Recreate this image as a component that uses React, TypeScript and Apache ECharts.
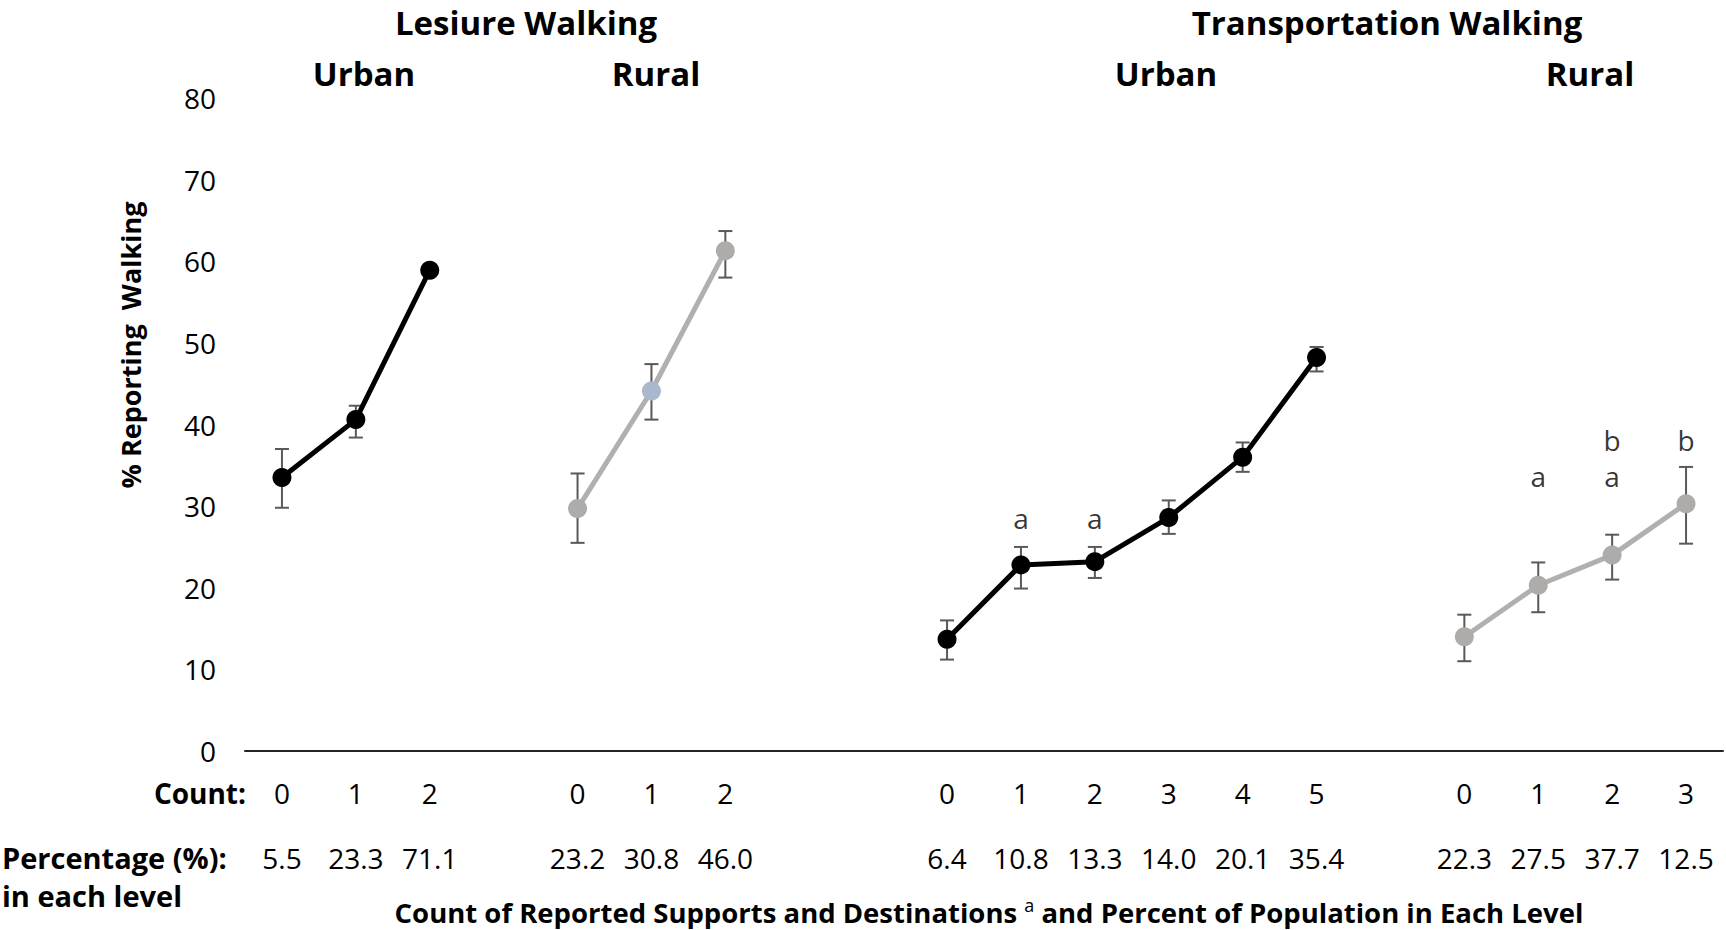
import React, { useEffect, useRef } from "react";
import * as echarts from "echarts";

// ---------- data ----------
const luCounts = [0, 1, 2];
const luMean = [33.5, 40.6, 58.9];
const luLow = [29.8, 38.4, 58.4];
const luHigh = [37.0, 42.3, 59.4];
const luPct = ["5.5", "23.3", "71.1"];

const lrCounts = [0, 1, 2];
const lrMean = [29.7, 44.1, 61.3];
const lrLow = [25.5, 40.6, 58.0];
const lrHigh = [34.0, 47.4, 63.7];
const lrPct = ["23.2", "30.8", "46.0"];

const tuCounts = [0, 1, 2, 3, 4, 5];
const tuMean = [13.7, 22.8, 23.2, 28.6, 36.0, 48.2];
const tuLow = [11.2, 19.9, 21.2, 26.6, 34.2, 46.5];
const tuHigh = [16.0, 25.0, 25.0, 30.7, 37.8, 49.5];
const tuPct = ["6.4", "10.8", "13.3", "14.0", "20.1", "35.4"];

const trCounts = [0, 1, 2, 3];
const trMean = [14.0, 20.3, 24.0, 30.3];
const trLow = [11.0, 17.0, 21.0, 25.4];
const trHigh = [16.7, 23.1, 26.5, 34.8];
const trPct = ["22.3", "27.5", "37.7", "12.5"];

// significance letters
const tuLettersA = ["", "a", "a", "", "", ""];
const trLettersA = ["", "a", "a", ""];
const trLettersB = ["", "", "b", "b"];

const yTicks = [0, 10, 20, 30, 40, 50, 60, 70, 80];

// ---------- layout / style ----------
const TU_A_LEVEL = 28.6;
const TR_A_LEVEL = 33.7;
const TR_B_LEVEL = 38.1;
const GAPS_AFTER = [1, 2, 1, 0];
const BLACK = "#000000";
const GRAY_LINE = "#b2afaf";
const GRAY_MARK = "#aeabab";
const HIGHLIGHT_MARK = "#a9b8cc";
const LR_HIGHLIGHT_INDEX = 1;
const ERR_COLOR = "#595959";
const FONT = "'Open Sans', 'Noto Sans', sans-serif";

export default function App() {
  const ref = useRef<HTMLDivElement>(null);

  useEffect(() => {
    document.body.style.margin = "0";
    document.body.style.overflow = "hidden";
    if (!ref.current) return;
    const chart = echarts.init(ref.current, undefined, { renderer: "svg" });

    const groups = [
      { key: "LU", counts: luCounts, mean: luMean, low: luLow, high: luHigh, pct: luPct, line: BLACK, mark: BLACK },
      { key: "LR", counts: lrCounts, mean: lrMean, low: lrLow, high: lrHigh, pct: lrPct, line: GRAY_LINE, mark: GRAY_MARK },
      { key: "TU", counts: tuCounts, mean: tuMean, low: tuLow, high: tuHigh, pct: tuPct, line: BLACK, mark: BLACK },
      { key: "TR", counts: trCounts, mean: trMean, low: trLow, high: trHigh, pct: trPct, line: GRAY_LINE, mark: GRAY_MARK },
    ];

    const cats: string[] = [];
    const countLbl: string[] = [];
    const pctLbl: string[] = [];
    const offsets: number[] = [];
    groups.forEach((g, gi) => {
      offsets.push(cats.length);
      g.counts.forEach((c, j) => {
        cats.push(g.key + "-" + c);
        countLbl.push(String(c));
        pctLbl.push(g.pct[j]);
      });
      for (let k = 0; k < GAPS_AFTER[gi]; k++) {
        cats.push("gap-" + gi + "-" + k);
        countLbl.push("");
        pctLbl.push("");
      }
    });

    const lineSeries = groups.map((g, gi) => ({
      type: "line",
      name: g.key,
      z: 3,
      symbol: "circle",
      symbolSize: 19,
      lineStyle: { color: g.line, width: 5 },
      itemStyle: { color: g.mark, borderWidth: 0 },
      data: g.mean.map((v, j) => {
        const item: any = { value: [offsets[gi] + j, v] };
        if (g.key === "LR" && j === LR_HIGHLIGHT_INDEX) item.itemStyle = { color: HIGHLIGHT_MARK };
        return item;
      }),
    }));

    const errData: number[][] = [];
    groups.forEach((g, gi) => {
      g.mean.forEach((_, j) => errData.push([offsets[gi] + j, g.low[j], g.high[j]]));
    });

    const letters: any[] = [];
    tuLettersA.forEach((t, j) => t && letters.push([offsets[2] + j, TU_A_LEVEL, t]));
    trLettersA.forEach((t, j) => t && letters.push([offsets[3] + j, TR_A_LEVEL, t]));
    trLettersB.forEach((t, j) => t && letters.push([offsets[3] + j, TR_B_LEVEL, t]));

    const titleStyle = (text: string, x: number, y: number, size: number, extra: any = {}) => ({
      type: "text",
      x,
      y,
      ...extra,
      style: {
        text,
        fill: "#000",
        font: `bold ${size}px ${FONT}`,
        lineHeight: Math.round(size * 1.1),
        textAlign: extra.align || "center",
        textVerticalAlign: "middle",
      },
    });

    chart.setOption({
      animation: false,
      backgroundColor: "#ffffff",
      grid: { left: 245, right: 3, top: 98, bottom: 179, containLabel: false },
      xAxis: [
        {
          type: "category",
          data: cats,
          boundaryGap: true,
          axisLine: { show: true, lineStyle: { color: "#262626", width: 2 } },
          axisTick: { show: false },
          splitLine: { show: false },
          axisLabel: {
            interval: 0,
            margin: 42,
            verticalAlign: "middle",
            fontSize: 28,
            fontFamily: FONT,
            color: "#000",
            formatter: (_v: string, i: number) => countLbl[i],
          },
        },
        {
          type: "category",
          data: cats,
          position: "bottom",
          offset: 0,
          boundaryGap: true,
          axisLine: { show: false },
          axisTick: { show: false },
          splitLine: { show: false },
          axisLabel: {
            interval: 0,
            margin: 107,
            verticalAlign: "middle",
            fontSize: 28,
            fontFamily: FONT,
            color: "#000",
            formatter: (_v: string, i: number) => pctLbl[i],
          },
        },
      ],
      yAxis: {
        type: "value",
        min: yTicks[0],
        max: yTicks[yTicks.length - 1],
        interval: yTicks[1] - yTicks[0],
        axisLine: { show: false },
        axisTick: { show: false },
        splitLine: { show: false },
        axisLabel: { margin: 29, fontSize: 28, fontFamily: FONT, color: "#000" },
      },
      series: [
        {
          type: "custom",
          name: "err",
          z: 2,
          data: errData,
          encode: { x: 0, y: [1, 2] },
          renderItem: (_p: any, api: any) => {
            const x = api.value(0);
            const lo = api.coord([x, api.value(1)]);
            const hi = api.coord([x, api.value(2)]);
            const cw = 7;
            const st = { stroke: ERR_COLOR, lineWidth: 2 };
            return {
              type: "group",
              children: [
                { type: "line", shape: { x1: hi[0], y1: hi[1], x2: lo[0], y2: lo[1] }, style: st },
                { type: "line", shape: { x1: hi[0] - cw, y1: hi[1], x2: hi[0] + cw, y2: hi[1] }, style: st },
                { type: "line", shape: { x1: lo[0] - cw, y1: lo[1], x2: lo[0] + cw, y2: lo[1] }, style: st },
              ],
            };
          },
        },
        ...lineSeries,
        {
          type: "scatter",
          name: "letters",
          symbolSize: 1,
          itemStyle: { color: "rgba(0,0,0,0)" },
          data: letters,
          label: {
            show: true,
            position: "inside",
            formatter: (p: any) => p.data[2],
            fontSize: 28,
            fontFamily: FONT,
            color: "#000",
          },
        },
      ],
      graphic: [
        titleStyle("Lesiure Walking", 526, 22, 33),
        titleStyle("Transportation Walking", 1387, 22, 33),
        titleStyle("Urban", 364, 73, 33),
        titleStyle("Rural", 656, 73, 33),
        titleStyle("Urban", 1166, 73, 33),
        titleStyle("Rural", 1590, 73, 33),
        titleStyle("% Reporting  Walking", 130, 345, 27, { rotation: Math.PI / 2 }),
        titleStyle("Count:", 246, 793, 28, { align: "right" }),
        titleStyle("Percentage (%):", 2, 857, 29, { align: "left" }),
        titleStyle("in each level", 2, 895, 29, { align: "left" }),
        {
          type: "text",
          x: 989,
          y: 912,
          style: {
            text: "{b|Count of Reported Supports and Destinations }{s|a}{b| and Percent of Population in Each Level}",
            textAlign: "center",
            textVerticalAlign: "middle",
            rich: {
              b: { fontSize: 27.5, fontWeight: "bold", fontFamily: FONT, fill: "#000", color: "#000" },
              s: { fontSize: 18, fontFamily: FONT, color: "#000", fill: "#000", verticalAlign: "top", padding: [0, 0, 14, 0] },
            },
          },
        },
      ],
    });

    return () => chart.dispose();
  }, []);

  return <div ref={ref} style={{ width: 1726, height: 930 }} />;
}
